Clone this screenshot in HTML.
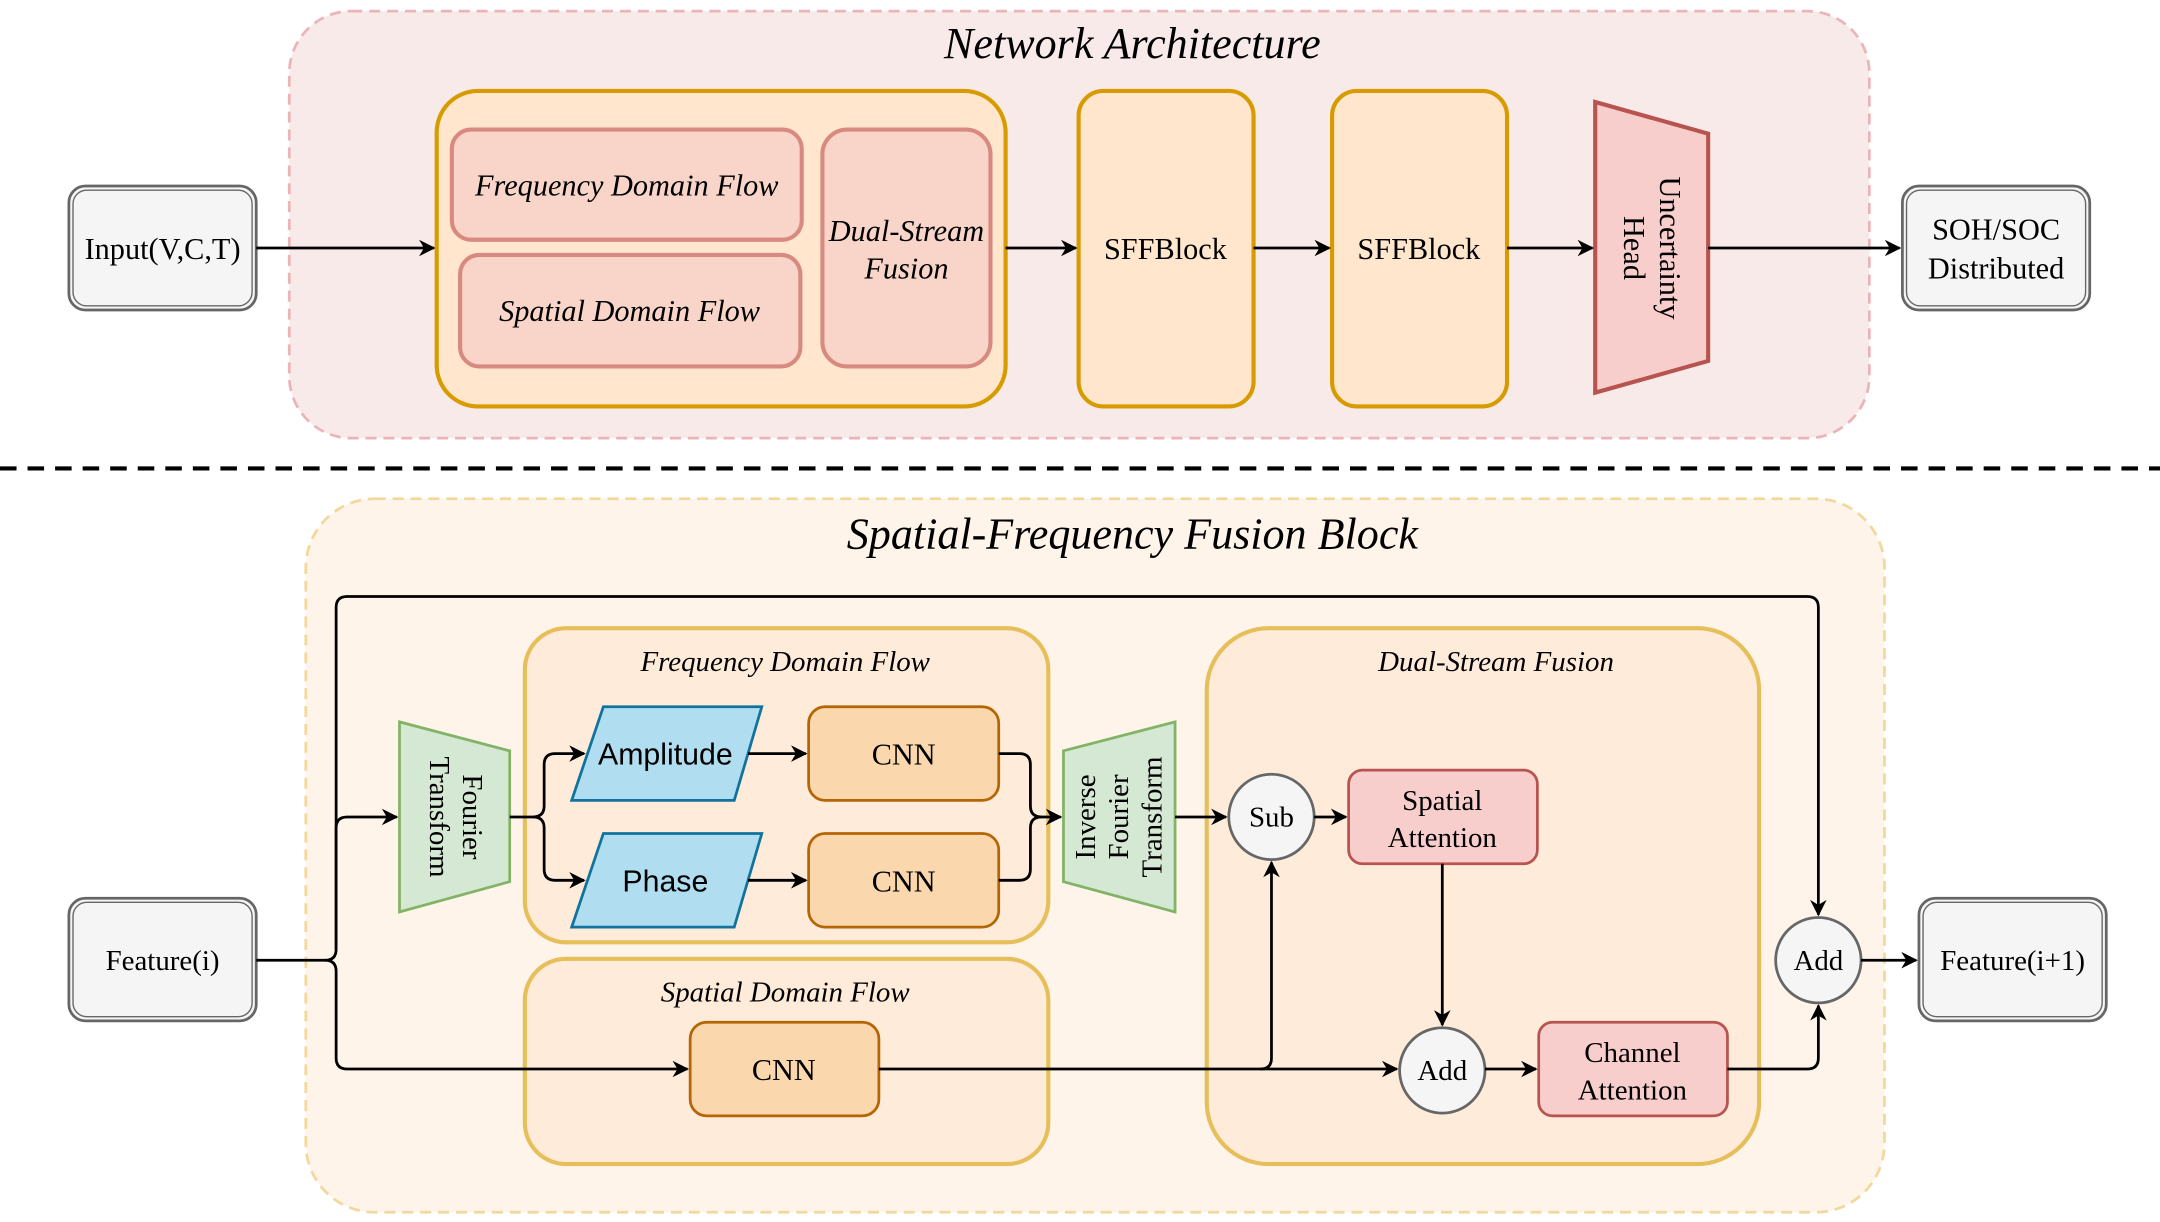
<!DOCTYPE html>
<html><head><meta charset="utf-8"><style>html,body{margin:0;padding:0;background:#fff}svg{display:block}</style></head>
<body>
<svg width="2160" height="1222" viewBox="0 0 1568 887" xmlns="http://www.w3.org/2000/svg" font-family="'Liberation Serif', serif">
<defs>
<marker id="b" viewBox="0 0 10 10" refX="9" refY="5" markerWidth="12" markerHeight="12" orient="auto" markerUnits="userSpaceOnUse">
<path d="M0,0 L10,5 L0,10 L3,5 z" fill="#000"/></marker>
</defs>
<g stroke-width="2">
<rect x="210" y="8" width="1147" height="310" rx="45" fill="#f9eaea" stroke="#eab5b8" stroke-dasharray="8 5"/>
<text x="822" y="42" font-size="32" font-style="italic" text-anchor="middle">Network Architecture</text>
<rect x="317" y="66" width="413" height="229" rx="30" fill="#ffe6cc" stroke="#d79b00" stroke-width="3"/>
<rect x="328" y="94" width="254" height="80" rx="14" fill="#f8d5c8" stroke="#d88a80" stroke-width="3"/>
<rect x="334" y="185" width="247" height="81" rx="14" fill="#f8d5c8" stroke="#d88a80" stroke-width="3"/>
<rect x="597" y="94" width="122" height="172" rx="18" fill="#f8d5c8" stroke="#d88a80" stroke-width="3"/>
<text x="455" y="142" font-size="22" font-style="italic" text-anchor="middle">Frequency Domain Flow</text>
<text x="457" y="233" font-size="22" font-style="italic" text-anchor="middle">Spatial Domain Flow</text>
<text x="658" y="175" font-size="22" font-style="italic" text-anchor="middle">Dual-Stream</text>
<text x="658" y="202" font-size="22" font-style="italic" text-anchor="middle">Fusion</text>
<rect x="783" y="66" width="127" height="229" rx="18" fill="#ffe6cc" stroke="#d79b00" stroke-width="3"/>
<rect x="967" y="66" width="127" height="229" rx="18" fill="#ffe6cc" stroke="#d79b00" stroke-width="3"/>
<text x="846" y="188" font-size="22" text-anchor="middle">SFFBlock</text>
<text x="1030" y="188" font-size="22" text-anchor="middle">SFFBlock</text>
<polygon points="1158,74 1240,97 1240,262 1158,285" fill="#f8cecc" stroke="#b85450" stroke-width="3"/>
<g transform="translate(1199,180) rotate(90)"><text x="0" y="-6" font-size="22" text-anchor="middle">Uncertainty</text><text x="0" y="20" font-size="22" text-anchor="middle">Head</text></g>
<rect x="50" y="135" width="136" height="90" rx="12" fill="#f5f5f5" stroke="#666"/>
<rect x="53" y="138" width="130" height="84" rx="10" fill="none" stroke="#666" stroke-width="1"/>
<text x="118" y="188" font-size="22" text-anchor="middle">Input(V,C,T)</text>
<rect x="1381" y="135" width="136" height="90" rx="12" fill="#f5f5f5" stroke="#666"/>
<rect x="1384" y="138" width="130" height="84" rx="10" fill="none" stroke="#666" stroke-width="1"/>
<text x="1449" y="174" font-size="22" text-anchor="middle">SOH/SOC</text>
<text x="1449" y="202" font-size="22" text-anchor="middle">Distributed</text>
<g stroke="#000" fill="none" marker-end="url(#b)">
<line x1="186" y1="180" x2="315" y2="180"/>
<line x1="730" y1="180" x2="781" y2="180"/>
<line x1="910" y1="180" x2="965" y2="180"/>
<line x1="1094" y1="180" x2="1156" y2="180"/>
<line x1="1240" y1="180" x2="1379" y2="180"/>
</g>
<line x1="0" y1="340" x2="1568" y2="340" stroke="#000" stroke-width="3" stroke-dasharray="12 8"/>
<rect x="222" y="362" width="1146" height="518" rx="50" fill="#fef4ea" stroke="#f2d89a" stroke-dasharray="8 5"/>
<text x="822" y="398" font-size="32" font-style="italic" text-anchor="middle">Spatial-Frequency Fusion Block</text>
<rect x="381" y="456" width="380" height="228" rx="30" fill="#ffebd9" stroke="#e6bf5a" stroke-width="3"/>
<rect x="381" y="696" width="380" height="149" rx="30" fill="#ffebd9" stroke="#e6bf5a" stroke-width="3"/>
<rect x="876" y="456" width="401" height="389" rx="45" fill="#ffebd9" stroke="#e6bf5a" stroke-width="3"/>
<text x="570" y="487" font-size="21" font-style="italic" text-anchor="middle">Frequency Domain Flow</text>
<text x="570" y="727" font-size="21" font-style="italic" text-anchor="middle">Spatial Domain Flow</text>
<text x="1086" y="487" font-size="21" font-style="italic" text-anchor="middle">Dual-Stream Fusion</text>
<polygon points="290,524 370,545 370,640 290,662" fill="#d5e8d4" stroke="#82b366"/>
<g transform="translate(330,593) rotate(90)"><text x="0" y="-6" font-size="21" text-anchor="middle">Fourier</text><text x="0" y="18" font-size="21" text-anchor="middle">Transform</text></g>
<polygon points="772,545 853,524 853,662 772,640" fill="#d5e8d4" stroke="#82b366"/>
<g transform="translate(813,593) rotate(-90)"><text x="0" y="-18" font-size="21" text-anchor="middle">Inverse</text><text x="0" y="6" font-size="21" text-anchor="middle">Fourier</text><text x="0" y="30" font-size="21" text-anchor="middle">Transform</text></g>
<polygon points="438,513 553,513 533,581 415,581" fill="#b1ddf0" stroke="#10739e"/>
<polygon points="438,605 553,605 533,673 415,673" fill="#b1ddf0" stroke="#10739e"/>
<text x="483" y="555" font-size="22" font-family="'Liberation Sans', sans-serif" text-anchor="middle">Amplitude</text>
<text x="483" y="647" font-size="22" font-family="'Liberation Sans', sans-serif" text-anchor="middle">Phase</text>
<rect x="587" y="513" width="138" height="68" rx="12" fill="#fad7ac" stroke="#b46504"/>
<rect x="587" y="605" width="138" height="68" rx="12" fill="#fad7ac" stroke="#b46504"/>
<rect x="501" y="742" width="137" height="68" rx="12" fill="#fad7ac" stroke="#b46504"/>
<text x="656" y="555" font-size="22" text-anchor="middle">CNN</text>
<text x="656" y="647" font-size="22" text-anchor="middle">CNN</text>
<text x="569" y="784" font-size="22" text-anchor="middle">CNN</text>
<circle cx="923" cy="593" r="31" fill="#f5f5f5" stroke="#666"/>
<text x="923" y="600" font-size="21" text-anchor="middle">Sub</text>
<rect x="979" y="559" width="137" height="68" rx="10" fill="#f8cecc" stroke="#b85450"/>
<text x="1047" y="588" font-size="21" text-anchor="middle">Spatial</text>
<text x="1047" y="615" font-size="21" text-anchor="middle">Attention</text>
<circle cx="1047" cy="777" r="31" fill="#f5f5f5" stroke="#666"/>
<text x="1047" y="784" font-size="21" text-anchor="middle">Add</text>
<rect x="1117" y="742" width="137" height="68" rx="10" fill="#f8cecc" stroke="#b85450"/>
<text x="1185" y="771" font-size="21" text-anchor="middle">Channel</text>
<text x="1185" y="798" font-size="21" text-anchor="middle">Attention</text>
<circle cx="1320" cy="697" r="31" fill="#f5f5f5" stroke="#666"/>
<text x="1320" y="704" font-size="21" text-anchor="middle">Add</text>
<rect x="50" y="652" width="136" height="89" rx="12" fill="#f5f5f5" stroke="#666"/>
<rect x="53" y="655" width="130" height="83" rx="10" fill="none" stroke="#666" stroke-width="1"/>
<text x="118" y="704" font-size="21" text-anchor="middle">Feature(i)</text>
<rect x="1393" y="652" width="136" height="89" rx="12" fill="#f5f5f5" stroke="#666"/>
<rect x="1396" y="655" width="130" height="83" rx="10" fill="none" stroke="#666" stroke-width="1"/>
<text x="1461" y="704" font-size="21" text-anchor="middle">Feature(i+1)</text>
<g stroke="#000" fill="none" marker-end="url(#b)">
<path d="M186,697 H236 Q244,697 244,689 V601 Q244,593 252,593 H288"/>
<path d="M236,697 Q244,697 244,705 V768 Q244,776 252,776 H499"/>
<path d="M244,689 V441 Q244,433 252,433 H1312 Q1320,433 1320,441 V664"/>
<path d="M370,593 H387 Q395,593 395,585 V555 Q395,547 403,547 H424"/>
<path d="M387,593 Q395,593 395,601 V631 Q395,639 403,639 H424"/>
<path d="M543,547 H585"/>
<path d="M543,639 H585"/>
<path d="M725,547 H740 Q748,547 748,555 V585 Q748,593 756,593 H770"/>
<path d="M725,639 H740 Q748,639 748,631 V601 Q748,593 756,593" marker-end="none"/>
<path d="M853,593 H890"/>
<path d="M954,593 H977"/>
<path d="M638,776 H1014"/>
<path d="M915,776 Q923,776 923,768 V626"/>
<path d="M1047,627 V744"/>
<path d="M1078,776 H1115"/>
<path d="M1254,776 H1312 Q1320,776 1320,768 V730"/>
<path d="M1351,697 H1391"/>
</g>
</g>
</svg>
</body></html>
